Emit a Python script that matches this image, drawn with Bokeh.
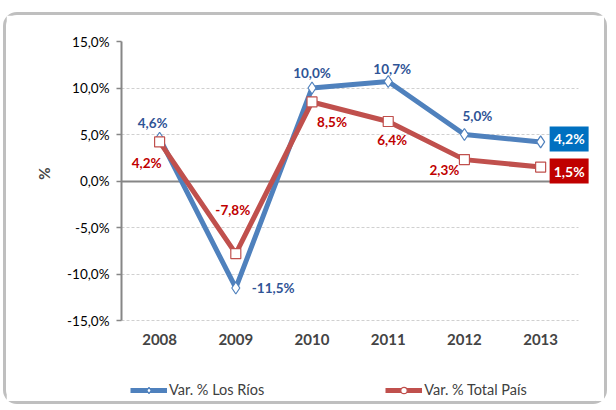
from bokeh.plotting import figure
from bokeh.models import (Range1d, FixedTicker, Legend, LegendItem, Grid,
                          ColumnDataSource, Label, Title)
from bokeh.embed import file_html
from bokeh.resources import INLINE

years = ["2008", "2009", "2010", "2011", "2012", "2013"]
los_rios = [4.6, -11.5, 10.0, 10.7, 5.0, 4.2]
total_pais = [4.2, -7.8, 8.5, 6.4, 2.3, 1.5]
y_ticks = [-15, -10, -5, 0, 5, 10, 15]
y_tick_labels = ["-15,0%", "-10,0%", "-5,0%", "0,0%", "5,0%", "10,0%", "15,0%"]
series_names = ["Var. % Los Ríos", "Var. % Total País"]
y_title = "%"

FONT = "Lato"
BLUE = "#4F81BD"
RED = "#C0504D"
BLUE_TXT = "#2F5496"
RED_TXT = "#C00000"

xs = list(range(len(years)))

p = figure(width=604, height=392, x_range=Range1d(-0.5, 5.72),
           y_range=Range1d(-24.35, 15), output_backend="svg", toolbar_location=None,
           x_axis_location="above",
           min_border_left=115, min_border_right=15, min_border_top=26, min_border_bottom=0)
p.outline_line_color = None
p.background_fill_color = "white"
p.styles = {"border": "3px solid #BFBFBF", "border-radius": "14px",
            "margin-left": "3px", "margin-top": "12px"}

# y axis
p.yaxis.ticker = FixedTicker(ticks=y_ticks)
p.yaxis.bounds = (-15, 15)
p.yaxis.major_label_overrides = {t: l for t, l in zip(y_ticks, y_tick_labels)}
p.yaxis.axis_line_color = "#868686"
p.yaxis.axis_line_width = 2
p.yaxis.major_tick_line_color = "#868686"
p.yaxis.major_tick_line_width = 1.5
p.yaxis.major_tick_out = 5
p.yaxis.major_tick_in = 0
p.yaxis.minor_tick_line_color = None
p.yaxis.major_label_text_font = FONT
p.yaxis.major_label_text_font_size = "13.5px"
p.yaxis.major_label_text_color = "#000000"
p.yaxis.major_label_standoff = 7

p.add_layout(Title(text=y_title, align="right", offset=126, text_font=FONT,
                   text_font_style="bold", text_font_size="15px", standoff=24), "left")

# x axis (year labels drawn just under the -15% line)
p.xaxis.ticker = FixedTicker(ticks=xs)
p.xaxis.major_label_overrides = {i: y for i, y in zip(xs, years)}
p.xaxis.fixed_location = -18.44
p.xaxis.axis_line_color = None
p.xaxis.major_tick_line_color = None
p.xaxis.minor_tick_line_color = None
p.xaxis.major_label_text_font = FONT
p.xaxis.major_label_text_font_style = "bold"
p.xaxis.major_label_text_font_size = "15px"
p.xaxis.major_label_standoff = 2

p.xgrid.grid_line_color = None
p.ygrid.ticker = FixedTicker(ticks=[t for t in y_ticks if t != 0])
p.ygrid.grid_line_color = "#D0D0D0"
p.ygrid.grid_line_dash = "3 2"
p.ygrid.grid_line_width = 1

zero_grid = Grid(dimension=1, ticker=FixedTicker(ticks=[0]), grid_line_color="#868686",
                 grid_line_width=2)
p.add_layout(zero_grid)
for g in list(p.ygrid) + [zero_grid]:
    if "cross_bounds" in g.properties():
        g.cross_bounds = (-0.5, 5.5)

src = ColumnDataSource(dict(x=xs, a=los_rios, b=total_pais))

p.line("x", "a", source=src, line_color=BLUE, line_width=5)
p.scatter("x", "a", source=src, marker="diamond", size=12, fill_color="white",
          line_color=BLUE, line_width=1.2)
p.line("x", "b", source=src, line_color=RED, line_width=5)
p.scatter("x", "b", source=src, marker="square", size=10, fill_color="white",
          line_color=RED, line_width=1.2)

def fmt(v):
    return ("%.1f" % v).replace(".", ",") + "%"

# data labels (offsets in px)
blue_off = [(-7, 15, "center"), (16, 0, "left"), (0, 15, "center"), (4, 12, "center"), (13, 19, "center")]
red_off = [(-13, -21, "center"), (-3, 44, "center"), (20, -20, "center"), (4, -19, "center"), (-20, -10, "center")]
for i, (dx, dy, al) in enumerate(blue_off):
    p.add_layout(Label(x=xs[i], y=los_rios[i], x_offset=dx, y_offset=dy, text=fmt(los_rios[i]),
                       text_font=FONT, text_font_style="bold", text_font_size="13.5px",
                       text_color=BLUE_TXT, text_align=al, text_baseline="middle"))
for i, (dx, dy, al) in enumerate(red_off):
    p.add_layout(Label(x=xs[i], y=total_pais[i], x_offset=dx, y_offset=dy, text=fmt(total_pais[i]),
                       text_font=FONT, text_font_style="bold", text_font_size="13.5px",
                       text_color=RED_TXT, text_align=al, text_baseline="middle"))
# boxed last labels
p.add_layout(Label(x=xs[5], y=los_rios[5], x_offset=9, y_offset=3, text=fmt(los_rios[5]),
                   text_font=FONT, text_font_style="bold", text_font_size="14px",
                   text_color="white", text_align="left", text_baseline="middle",
                   background_fill_color="#0070C0", padding=4))
p.add_layout(Label(x=xs[5], y=total_pais[5], x_offset=9, y_offset=-4, text=fmt(total_pais[5]),
                   text_font=FONT, text_font_style="bold", text_font_size="14px",
                   text_color="white", text_align="left", text_baseline="middle",
                   background_fill_color="#C00000", padding=4))

# legend with off-screen dummy renderers (line + marker glyphs)
dummy = ColumnDataSource(dict(x=[0], y=[100]))
l1 = p.line("x", "y", source=dummy, line_color=BLUE, line_width=5)
m1 = p.scatter("x", "y", source=dummy, marker="diamond", size=11, fill_color="white",
               line_color=BLUE, line_width=1.2)
l2 = p.line("x", "y", source=dummy, line_color=RED, line_width=5)
m2 = p.scatter("x", "y", source=dummy, marker="circle", size=11, fill_color="white",
               line_color=RED, line_width=1.2)
legend = Legend(items=[LegendItem(label=series_names[0], renderers=[l1, m1]),
                       LegendItem(label=series_names[1], renderers=[l2, m2])],
                orientation="horizontal", location=(9, 9), glyph_width=37, glyph_height=16,
                label_height=16, label_standoff=2, spacing=121, padding=0, margin=0,
                border_line_color=None, background_fill_alpha=0,
                label_text_font=FONT, label_text_font_size="14.5px", label_text_color="#404040")
p.add_layout(legend)

open("out.html", "w").write(file_html(p, INLINE))
